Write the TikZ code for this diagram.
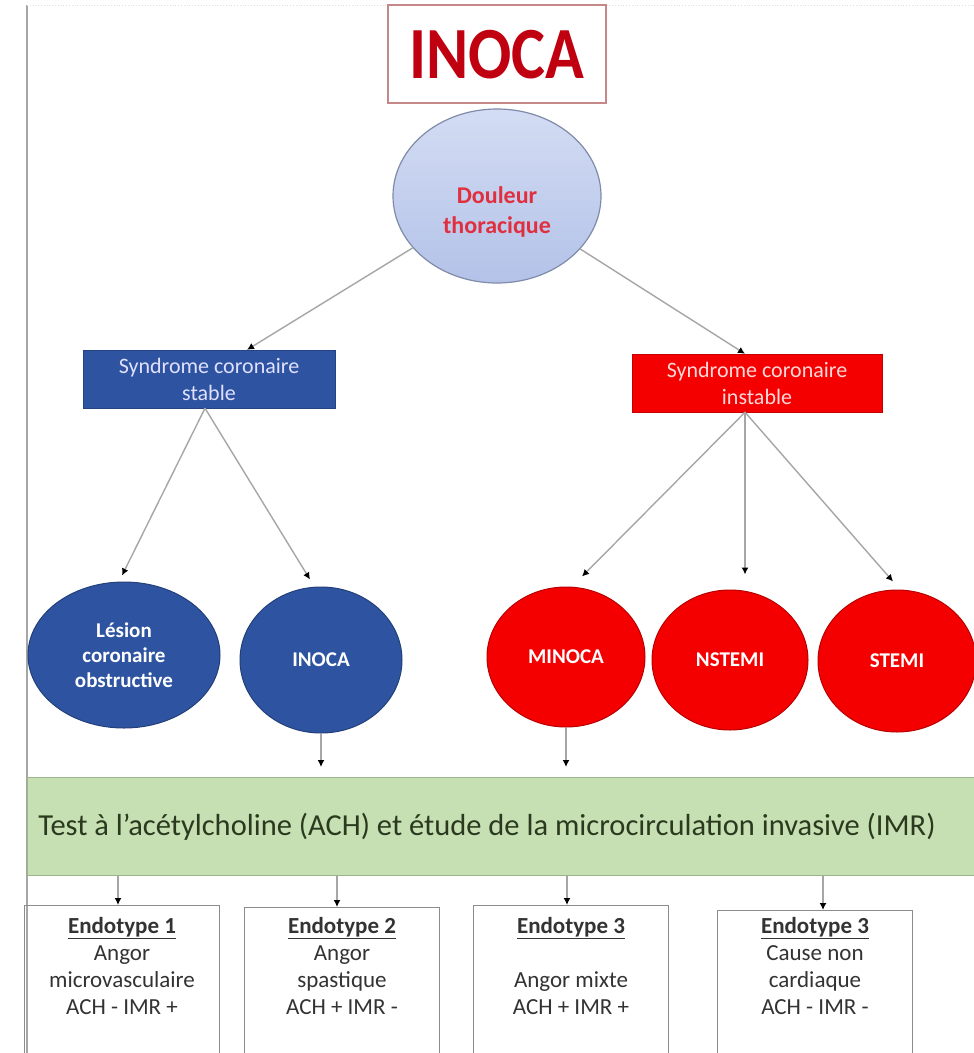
\documentclass[tikz,border=0pt]{standalone}
\usepackage{fontspec}
\setmainfont{Carlito}
\usetikzlibrary{arrows.meta,calc,shapes.geometric}
\definecolor{cblue}{HTML}{2E54A1}
\definecolor{cred}{HTML}{F50000}
\definecolor{cdred}{HTML}{C00010}
\definecolor{cpink}{HTML}{E0303F}
\definecolor{ccircT}{HTML}{D3DCF3}
\definecolor{ccircB}{HTML}{B3C2E8}
\definecolor{ccircD}{HTML}{7F8BA8}
\definecolor{cgreen}{HTML}{C6E0B4}
\definecolor{cgreenb}{HTML}{9DB58A}
\definecolor{cgtext}{HTML}{2B3A1E}
\definecolor{conn}{HTML}{A6A6A6}
\definecolor{ctext}{HTML}{333333}
\tikzset{
  conarrow/.style={draw=conn, line width=1.4pt, -{Latex[length=7pt,width=7pt,color=black]}},
  bluebox/.style={rectangle, fill=cblue, draw=cblue!80!black, minimum width=252, minimum height=58, text=blue!12!white, align=center, font=\fontsize{22}{27}\selectfont, inner sep=0pt},
  redbox/.style={rectangle, fill=cred, draw=cred!80!black, minimum width=250, minimum height=58, text=red!15!white, align=center, font=\fontsize{22}{27}\selectfont, inner sep=0pt},
  blueell/.style={ellipse, fill=cblue, draw=cblue!75!black, line width=1pt, text=white, align=center, font=\bfseries\fontsize{21}{25}\selectfont, inner sep=0pt},
  redell/.style={ellipse, fill=cred, draw=cred!75!black, line width=1pt, text=white, align=center, font=\bfseries\fontsize{21}{25}\selectfont, inner sep=0pt},
  endobox/.style={rectangle, draw=gray!90, line width=1.4pt, minimum width=195, minimum height=160, anchor=north, inner sep=0pt},
  endotext/.style={anchor=north, align=center, text=ctext, font=\fontsize{23}{27}\selectfont, inner sep=0pt},
}
\begin{document}
\begin{tikzpicture}[x=1pt,y=-1pt]
\clip (0,0) rectangle (974,1053);
\fill[white] (0,0) rectangle (974,1053);
% left frame line and faint top line
\draw[gray!70, line width=1.2pt] (27,5) -- (27,1053);
\draw[gray!25, dotted, line width=0.8pt] (27,5) -- (974,5);
% title
\node[rectangle, draw=red!35!gray!70, line width=1.2pt, minimum width=218, minimum height=98, inner sep=0pt] (title) at (497,54) {};
\node[text=cdred, font=\bfseries\fontsize{64}{64}\selectfont, inner sep=0pt, yscale=1.15] (titletxt) at (497,55) {INOCA};
% chest pain circle
\node[ellipse, minimum width=208, minimum height=174, draw=ccircD, line width=1.2pt, top color=ccircT, bottom color=ccircB, inner sep=0pt] (dt) at (497,196) {};
\node[text=cpink, align=center, font=\bfseries\fontsize{24}{30}\selectfont, inner sep=0pt] (dttxt) at (497,212) {Douleur\\thoracique};
% syndrome boxes
\node[bluebox] (stable) at (209,379) {Syndrome coronaire\\stable};
\node[redbox] (instable) at (757,383) {Syndrome coronaire\\instable};
% ellipses
\node[blueell, minimum width=192, minimum height=146] (lesion) at (124,655) {Lésion\\coronaire\\obstructive};
\node[blueell, minimum width=162, minimum height=146] (inoca) at (321,660) {INOCA};
\node[redell, minimum width=158, minimum height=140] (minoca) at (566,657) {MINOCA};
\node[redell, minimum width=156, minimum height=140] (nstemi) at (730,660) {NSTEMI};
\node[redell, minimum width=158, minimum height=142] (stemi) at (897,661) {STEMI};
% green box
\node[rectangle, fill=cgreen, draw=cgreenb, line width=1.4pt, minimum width=960, minimum height=98, anchor=north west, inner sep=0pt] (test) at (27,777) {};
\node[text=cgtext, font=\fontsize{30.5}{34}\selectfont, inner sep=0pt] (testtxt) at (487,827) {Test à l'acétylcholine (ACH) et étude de la microcirculation invasive (IMR)};
% endotype boxes
\node[endobox] (e1) at (122,905) {};
\node[endobox] (e2) at (342,907) {};
\node[endobox] (e3) at (571,905) {};
\node[endobox] (e4) at (815,910) {};
\node[endotext] (t1) at ($(e1.north)+(0,12)$) {\underline{\textbf{Endotype 1}}\\Angor\\microvasculaire\\ACH - IMR +};
\node[endotext] (t2) at ($(e2.north)+(0,10)$) {\underline{\textbf{Endotype 2}}\\Angor\\spastique\\ACH + IMR -};
\node[endotext] (t3) at ($(e3.north)+(0,12)$) {\underline{\textbf{Endotype 3}}\\ \mbox{}\\Angor mixte\\ACH + IMR +};
\node[endotext] (t4) at ($(e4.north)+(0,7)$) {\underline{\textbf{Endotype 3}}\\Cause non\\cardiaque\\ACH - IMR -};
% connectors
\draw[conarrow] (dt) -- ($(stable.north)+(38,0)$);
\draw[conarrow] (dt) -- ($(instable.north)+(-12,0)$);
\draw[conarrow] ($(stable.south)+(-4,0)$) -- ($(lesion.north)+(-2,-6)$);
\draw[conarrow] ($(stable.south)+(-4,0)$) -- ($(inoca.north)+(-11,-7)$);
\draw[conarrow] ($(instable.south)+(-12,0)$) -- ($(minoca.north)+(16,-10)$);
\draw[conarrow] ($(instable.south)+(-12,0)$) -- ($(nstemi.north)+(15,-15)$);
\draw[conarrow] ($(instable.south)+(-12,0)$) -- ($(stemi.north)+(-4,-8)$);
\draw[conarrow] (inoca.south) -- ($(test.north west -| inoca.south)+(0,-10)$);
\draw[conarrow] (minoca.south) -- ($(test.north west -| minoca.south)+(0,-10)$);
\draw[conarrow] ($(test.south west -| e1.north)+(-4,0)$) -- ($(e1.north)+(-4,0)$);
\draw[conarrow] ($(test.south west -| e2.north)+(-5,0)$) -- ($(e2.north)+(-5,0)$);
\draw[conarrow] ($(test.south west -| e3.north)+(-4,0)$) -- ($(e3.north)+(-4,0)$);
\draw[conarrow] ($(test.south west -| e4.north)+(8,0)$) -- ($(e4.north)+(8,0)$);
\end{tikzpicture}
\end{document}
